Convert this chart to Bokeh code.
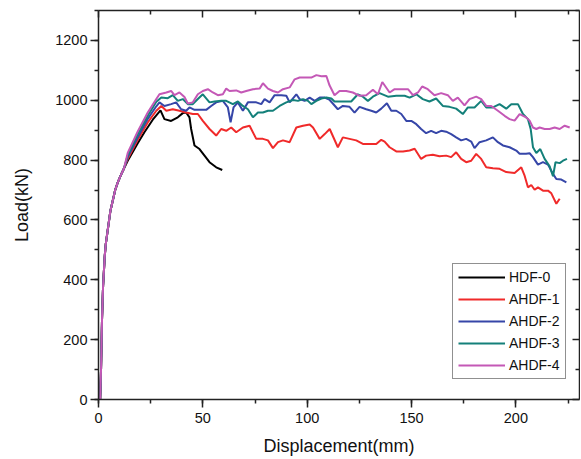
from bokeh.plotting import figure
from bokeh.models import Range1d, LinearAxis, SingleIntervalTicker, FixedTicker, Legend
from bokeh.embed import file_html
from bokeh.resources import INLINE

# ---- data ----
rise_x = [0.8, 1.2, 1.7, 2.2, 3.0, 3.5, 4.6, 5.7, 8.0, 9.2, 10.6, 12.2]
rise_y = [0, 95, 272, 380, 480, 520, 575, 630, 700, 725, 748, 772]

hdf0_x = rise_x + [14.0, 18.8, 22.0, 26.0, 29.7, 31.6, 34.8, 38.0, 40.4, 42.0, 43.6, 44.4,
                   46.0, 48.4, 50.8, 53.2, 56.4, 59.3]
hdf0_y = rise_y + [798, 856, 893, 935, 966, 937, 931, 943, 957, 959, 943, 904,
                   849, 837, 815, 793, 776, 767]

ahdf1_x = rise_x + [14.0, 18.8, 23.6, 27.7, 30.1, 32.5, 35.6, 38.8, 42.0, 45.2, 47.6, 50.0,
                    53.2, 56.4, 58.8, 61.2, 63.6, 66.0, 69.2, 72.4, 75.6, 78.8, 81.2, 83.6,
                    86.0, 88.4, 91.6, 94.8, 98.0, 101.2, 102.8, 106.0, 108.4, 110.8, 114.7,
                    117.1, 120.3, 123.5, 126.7, 129.9, 133.1, 135.5, 137.1, 139.5, 142.7,
                    145.9, 149.1, 151.5, 154.6, 157.0, 160.2, 163.4, 166.6, 169.0, 171.4,
                    173.8, 176.2, 178.6, 181.0, 183.4, 185.8, 189.0, 192.2, 195.4, 199.4,
                    202.6, 204.2, 205.8, 207.4, 209.0, 210.6, 213.0, 215.4, 217.0, 219.4, 221.0]
ahdf1_y = rise_y + [804, 868, 926, 965, 981, 965, 970, 965, 959, 954, 954, 931,
                    904, 882, 904, 898, 909, 893, 909, 915, 871, 871, 866, 840,
                    860, 866, 860, 909, 915, 919, 909, 871, 887, 904, 843,
                    876, 871, 866, 854, 854, 854, 868, 862, 843, 829,
                    829, 832, 838, 804, 815, 818, 813, 815, 810, 826,
                    804, 793, 798, 821, 804, 776, 773, 771, 760, 757,
                    776, 748, 709, 717, 701, 709, 698, 698, 689, 654, 671]

ahdf2_x = rise_x + [14.0, 18.8, 23.6, 27.7, 29.2, 31.6, 34.8, 37.2, 39.6, 42.0, 43.6, 46.0,
                    48.4, 51.6, 54.0, 56.4, 59.6, 62.0, 63.3, 64.7, 66.8, 69.2, 71.6, 74.0,
                    75.6, 78.0, 79.6, 82.0, 84.4, 87.6, 90.0, 91.6, 94.8, 96.4, 98.8, 101.2,
                    103.6, 106.0, 108.4, 110.8, 114.7, 117.1, 120.3, 122.7, 125.1, 128.3,
                    130.7, 133.1, 135.5, 138.2, 140.3, 142.7, 145.1, 147.5, 149.9, 152.3,
                    154.6, 157.0, 159.4, 161.8, 164.2, 166.6, 169.0, 171.4, 173.8, 176.2,
                    178.6, 180.2, 182.6, 185.8, 189.0, 191.4, 193.8, 197.0, 200.2, 201.8,
                    204.9, 206.6, 208.2, 210.6, 213.0, 215.4, 217.8, 219.4, 221.8, 224.2]
ahdf2_y = rise_y + [810, 876, 938, 980, 993, 981, 987, 993, 970, 965, 976, 968,
                    968, 968, 981, 993, 998, 976, 926, 976, 993, 965, 993, 993,
                    993, 987, 1004, 993, 1017, 1017, 1015, 993, 1020, 1004, 998, 1009,
                    998, 1009, 1009, 1001, 970, 981, 978, 959, 978, 970,
                    965, 959, 972, 990, 965, 965, 954, 931, 931, 920,
                    904, 890, 898, 890, 898, 895, 887, 876, 866, 871,
                    862, 840, 860, 866, 876, 860, 849, 843, 832, 821,
                    821, 823, 810, 785, 793, 785, 754, 737, 735, 726]

ahdf3_x = rise_x + [14.0, 18.8, 23.6, 27.7, 30.1, 33.2, 35.6, 38.0, 40.4, 42.8, 45.2, 47.6,
                    50.0, 53.2, 55.6, 58.8, 61.2, 64.4, 66.8, 69.2, 71.6, 74.0, 76.4, 78.8,
                    81.2, 83.6, 86.8, 90.0, 93.2, 95.6, 98.0, 100.4, 102.0, 104.4, 106.8,
                    109.2, 111.6, 113.1, 117.1, 121.1, 124.3, 126.7, 129.1, 131.5, 134.7,
                    138.7, 142.7, 146.7, 149.1, 152.3, 155.4, 158.6, 161.8, 165.0, 168.2,
                    171.4, 174.6, 177.0, 180.2, 183.4, 185.8, 189.0, 192.2, 195.4, 197.8,
                    201.0, 203.4, 205.8, 207.1, 208.2, 209.8, 211.7, 213.8, 216.2, 217.8,
                    219.0, 221.0, 222.6, 224.5]
ahdf3_y = rise_y + [816, 886, 948, 995, 1009, 1007, 1017, 998, 1004, 987, 987, 1004,
                    1020, 993, 996, 998, 998, 987, 996, 981, 970, 943, 959, 959,
                    965, 965, 981, 993, 1001, 998, 1004, 998, 987, 998, 1006,
                    1009, 1006, 996, 996, 996, 1020, 1012, 998, 1012, 1024,
                    1012, 1015, 1015, 1009, 1020, 1004, 996, 1006, 981, 978,
                    972, 954, 976, 976, 998, 976, 976, 987, 972, 987,
                    987, 954, 937, 904, 843, 824, 837, 804, 779, 746,
                    793, 790, 798, 804]

ahdf4_x = rise_x + [14.0, 18.8, 23.6, 27.7, 29.2, 32.5, 34.8, 36.4, 38.8, 41.2, 42.8, 45.2,
                    47.6, 50.0, 52.4, 54.8, 57.2, 59.6, 61.2, 62.8, 66.0, 68.4, 70.8, 74.0,
                    77.2, 78.8, 81.2, 83.6, 86.0, 88.4, 91.6, 94.0, 96.4, 99.6, 102.0,
                    104.4, 106.8, 109.2, 110.7, 113.1, 115.5, 118.7, 121.9, 125.1, 128.3,
                    131.5, 133.9, 136.0, 139.5, 141.9, 145.1, 148.3, 150.7, 153.1, 155.1,
                    157.8, 161.0, 164.2, 167.4, 169.8, 172.2, 175.4, 177.8, 181.0, 183.4,
                    185.8, 188.2, 191.4, 194.6, 197.0, 199.4, 201.8, 204.9, 206.6, 208.2,
                    209.8, 211.4, 213.8, 216.2, 218.6, 221.0, 223.4, 225.8]
ahdf4_y = rise_y + [824, 896, 959, 1004, 1020, 1026, 1031, 1017, 1026, 1011, 989, 993,
                    1020, 1031, 1037, 1026, 1017, 1020, 1039, 1031, 1033, 1026, 1031, 1037,
                    1039, 1057, 1039, 1031, 1026, 1037, 1043, 1070, 1076, 1076, 1076,
                    1084, 1080, 1081, 1050, 1017, 1031, 1031, 1026, 1015, 1017,
                    1035, 1020, 1061, 1026, 1037, 1037, 1037, 1017, 1026, 1046,
                    1037, 1017, 1024, 1017, 998, 1009, 983, 1004, 1012, 1004,
                    981, 981, 965, 948, 937, 932, 954, 943, 932, 909,
                    904, 909, 904, 904, 909, 904, 915, 909]

series_names = ["HDF-0", "AHDF-1", "AHDF-2", "AHDF-3", "AHDF-4"]
series_x = [hdf0_x, ahdf1_x, ahdf2_x, ahdf3_x, ahdf4_x]
series_y = [hdf0_y, ahdf1_y, ahdf2_y, ahdf3_y, ahdf4_y]
series_colors = ["#000000", "#f02a2a", "#3646a8", "#14807a", "#c458b6"]

# tick positions for the mirrored (unlabelled) top and right axes
x_major_ticks = [0, 50, 100, 150, 200]
x_minor_ticks = [25, 75, 125, 175, 225]
y_major_ticks = [0, 200, 400, 600, 800, 1000, 1200]
y_minor_ticks = [100, 300, 500, 700, 900, 1100, 1300]

FONT = "Liberation Sans"
AX = "#222222"

p = figure(width=580, height=458, output_backend="svg", toolbar_location=None,
           x_range=Range1d(0, 230.5), y_range=Range1d(0, 1300),
           min_border_left=98, min_border_right=1, min_border_top=10, min_border_bottom=57)
p.grid.visible = False
p.outline_line_color = None
p.background_fill_color = "white"
p.border_fill_color = "white"

renderers = {}
for i in range(5):
    renderers[i] = p.line(series_x[i], series_y[i], line_color=series_colors[i], line_width=2)

def base_style(ax):
    ax.axis_line_color = AX
    ax.axis_line_width = 1.5
    ax.major_tick_line_color = AX
    ax.minor_tick_line_color = AX
    ax.major_tick_line_width = 1.5
    ax.minor_tick_line_width = 1.5

def label_style(ax, ticker):
    base_style(ax)
    ax.ticker = ticker
    ax.major_tick_in = 0
    ax.major_tick_out = 8
    ax.minor_tick_in = 0
    ax.minor_tick_out = 4
    ax.major_label_text_font = FONT
    ax.major_label_text_font_size = "14.5px"
    ax.major_label_text_color = "#111111"
    ax.axis_label_text_font = FONT
    ax.axis_label_text_font_size = "18px"
    ax.axis_label_text_font_style = "normal"
    ax.axis_label_text_color = "#111111"

def mirror_axis(ticks, length, draw_line):
    ax = LinearAxis(ticker=FixedTicker(ticks=[], minor_ticks=ticks))
    base_style(ax)
    if not draw_line:
        ax.axis_line_color = None
    ax.minor_tick_in = length
    ax.minor_tick_out = 0
    ax.major_tick_in = 0
    ax.major_tick_out = 0
    ax.major_label_standoff = 0
    return ax

xb = p.xaxis[0]
label_style(xb, SingleIntervalTicker(interval=50, num_minor_ticks=2))
xb.axis_label = "Displacement(mm)"
xb.major_label_standoff = 5
xb.axis_label_standoff = 10

yl = p.yaxis[0]
label_style(yl, SingleIntervalTicker(interval=200, num_minor_ticks=2))
yl.axis_label = "Load(kN)"
yl.major_label_standoff = 3
yl.axis_label_standoff = 20

p.add_layout(mirror_axis(x_major_ticks, 7, True), "above")
p.add_layout(mirror_axis(x_minor_ticks, 4, False), "above")
p.add_layout(mirror_axis(y_major_ticks, 7, True), "right")
p.add_layout(mirror_axis(y_minor_ticks, 4, False), "right")

legend = Legend(items=[(series_names[i], [renderers[i]]) for i in range(5)],
                location=(354, 20))
legend.label_text_font = FONT
legend.label_text_font_size = "14px"
legend.label_text_color = "#111111"
legend.glyph_width = 47
legend.glyph_height = 16
legend.label_height = 16
legend.spacing = 6
legend.padding = 5
legend.label_standoff = 4
legend.border_line_color = AX
legend.border_line_width = 1.5
legend.background_fill_color = "white"
legend.background_fill_alpha = 1
legend.margin = 0
p.add_layout(legend, "center")

open("out.html", "w").write(file_html(p, INLINE))
